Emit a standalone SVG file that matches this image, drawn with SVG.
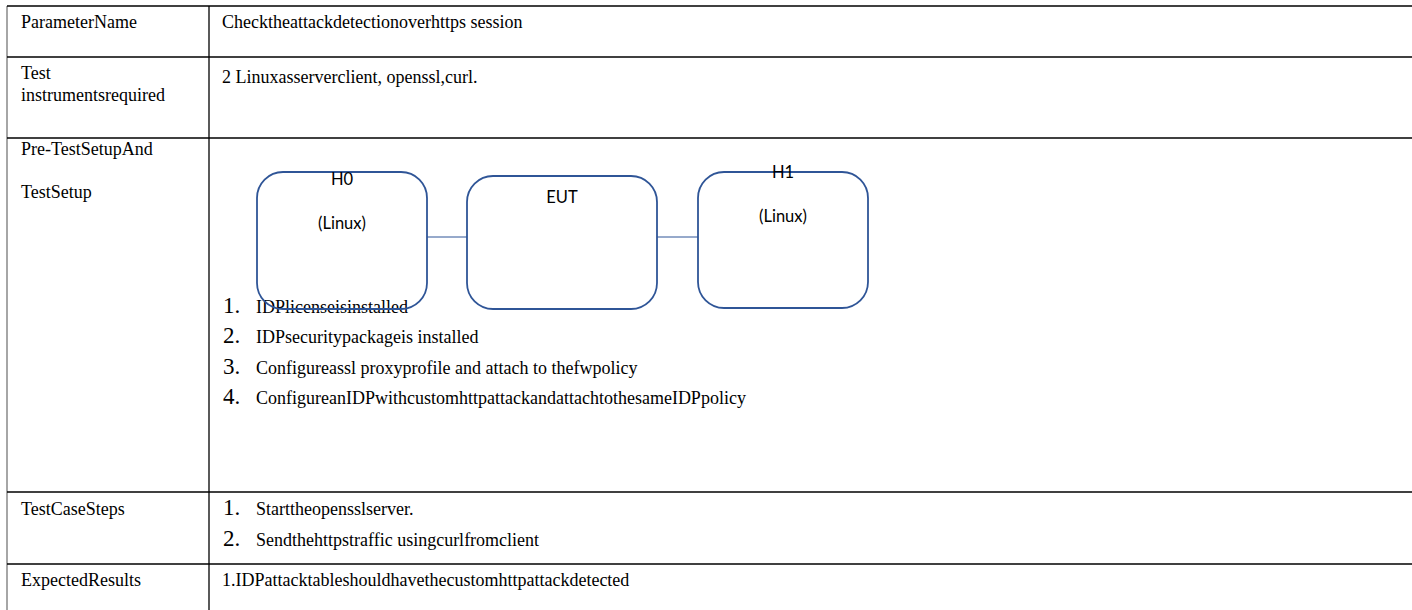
<svg xmlns="http://www.w3.org/2000/svg" width="1412" height="610" viewBox="0 0 1412 610">
  <style>
    .grid { stroke: #000; stroke-width: 1.3; fill: none; }
    .edge { stroke: #888; stroke-width: 1.5; fill: none; }
    .cell { font-family: "Liberation Serif", "Times New Roman", serif; font-size: 18px; fill: #000; }
    .num { font-family: "Liberation Serif", "Times New Roman", serif; font-size: 23px; fill: #000; }
    .item { font-family: "Liberation Serif", "Times New Roman", serif; font-size: 18px; fill: #000; }
    .box { fill: none; stroke: #2f5597; stroke-width: 1.8; }
    .lbl { font-family: Lato, "Liberation Sans", sans-serif; font-size: 16.5px; fill: #000; text-anchor: middle; }
    .link { stroke: #2f5597; stroke-width: 1; fill: none; }
  </style>

  <rect width="1412" height="610" fill="#fff"/>

  <!-- table rules -->
  <g id="table">
    <line class="edge" x1="7" y1="6" x2="7" y2="610"/>
    <line class="grid" x1="209" y1="6" x2="209" y2="610"/>
    <line class="grid" x1="7" y1="6" x2="1412" y2="6"/>
    <line class="grid" x1="7" y1="57" x2="1412" y2="57"/>
    <line class="grid" x1="7" y1="138" x2="1412" y2="138"/>
    <line class="grid" x1="7" y1="492" x2="1412" y2="492"/>
    <line class="grid" x1="7" y1="564" x2="1412" y2="564"/>
  </g>

  <!-- row headings -->
  <g id="headings" class="cell">
    <text x="21" y="28">ParameterName</text>
    <text x="21" y="79">Test</text>
    <text x="21" y="101">instrumentsrequired</text>
    <text x="21" y="155">Pre-TestSetupAnd</text>
    <text x="21" y="198">TestSetup</text>
    <text x="21" y="515">TestCaseSteps</text>
    <text x="21" y="586">ExpectedResults</text>
  </g>

  <!-- row contents -->
  <g id="contents">
    <text class="cell" x="222" y="28">Checktheattackdetectionoverhttps session</text>
    <text class="cell" x="222" y="83">2 Linuxasserverclient, openssl,curl.</text>

    <text class="num" x="223" y="313">1.</text>
    <text class="item" x="256" y="313">IDPlicenseisinstalled</text>
    <text class="num" x="223" y="343">2.</text>
    <text class="item" x="256" y="343">IDPsecuritypackageis installed</text>
    <text class="num" x="223" y="374">3.</text>
    <text class="item" x="256" y="374">Configureassl proxyprofile and attach to thefwpolicy</text>
    <text class="num" x="223" y="404">4.</text>
    <text class="item" x="256" y="404">ConfigureanIDPwithcustomhttpattackandattachtothesameIDPpolicy</text>

    <text class="num" x="223" y="515">1.</text>
    <text class="item" x="256" y="515">Starttheopensslserver.</text>
    <text class="num" x="223" y="546">2.</text>
    <text class="item" x="256" y="546">Sendthehttpstraffic usingcurlfromclient</text>

    <text class="cell" x="222" y="586">1.IDPattacktableshouldhavethecustomhttpattackdetected</text>
  </g>

  <!-- links between hosts and EUT -->
  <g id="connectors">
    <line class="link" x1="427" y1="237" x2="467" y2="237"/>
    <line class="link" x1="657" y1="237" x2="698" y2="237"/>
  </g>

  <g id="node-h0">
    <rect class="box" x="257" y="172" width="170" height="137" rx="26"/>
    <text class="lbl" x="342" y="185">H0</text>
    <text class="lbl" x="342" y="229">(Linux)</text>
  </g>

  <g id="node-eut">
    <rect class="box" x="467" y="176" width="190" height="133" rx="26"/>
    <text class="lbl" x="562" y="203">EUT</text>
  </g>

  <g id="node-h1">
    <rect class="box" x="698" y="172" width="170" height="136" rx="26"/>
    <text class="lbl" x="783" y="178">H1</text>
    <text class="lbl" x="783" y="222">(Linux)</text>
  </g>
</svg>
